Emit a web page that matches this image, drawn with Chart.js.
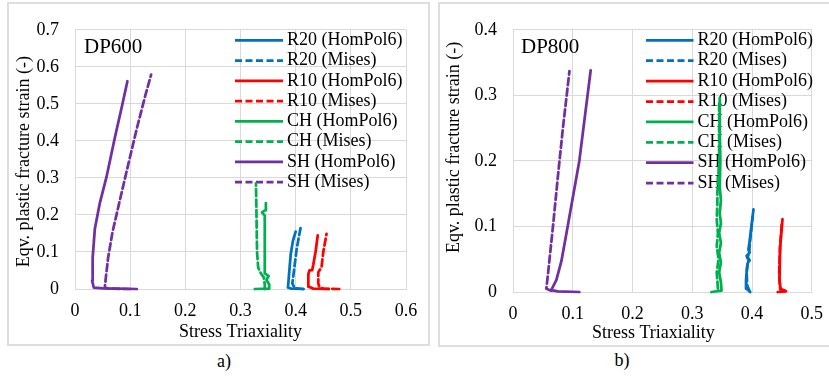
<!DOCTYPE html>
<html>
<head>
<meta charset="utf-8">
<script src="https://cdn.jsdelivr.net/npm/chart.js@4.4.0/dist/chart.umd.min.js"></script>
<style>
  body { margin:0; width:829px; height:377px; overflow:hidden; background:#fff; position:relative;
         font-family:'Liberation Serif','Times New Roman',serif; }
  .frame { position:absolute; border:2px solid #dedede; box-sizing:border-box; }
  canvas { position:absolute; }
  .cap { position:absolute; font-size:18px; transform:translate(-50%,-50%); color:#000; }
</style>
</head>
<body>
<div class="frame" style="left:7px;top:2px;width:423px;height:344px"></div>
<div class="frame" style="left:438px;top:2px;width:400px;height:345px"></div>
<canvas id="dp600" width="421" height="342" style="left:8px;top:3px"></canvas>
<canvas id="dp800" width="395" height="343" style="left:439px;top:3px"></canvas>
<div class="cap" style="left:224px;top:361px">a)</div>
<div class="cap" style="left:622px;top:360px">b)</div>
<script>
const FONT = "'Liberation Serif','Times New Roman',serif";

// series (same order in both panels)
const seriesNames  = ['R20 (HomPol6)', 'R20 (Mises)', 'R10 (HomPol6)', 'R10 (Mises)',
                      'CH (HomPol6)', 'CH (Mises)', 'SH (HomPol6)', 'SH (Mises)'];
const seriesColors = ['#0070C0', '#0070C0', '#FF0000', '#FF0000',
                      '#00B050', '#00B050', '#7030A0', '#7030A0'];
const seriesDashed = [false, true, false, true, false, true, false, true];

// DP600 : [stress triaxiality, eqv. plastic strain]
const dp600R20Hom = [[0.414,0],[0.392,0.001],[0.386,0.004],[0.387,0.02],[0.388,0.04],[0.391,0.093],[0.395,0.13],[0.400,0.155]];
const dp600R20Mis = [[0.414,0],[0.398,0.002],[0.394,0.015],[0.397,0.05],[0.402,0.11],[0.409,0.166]];
const dp600R10Hom = [[0.46,0],[0.432,0.001],[0.424,0.006],[0.423,0.02],[0.423,0.04],[0.425,0.05],[0.430,0.051],[0.432,0.066],[0.436,0.1],[0.440,0.145]];
const dp600R10Mis = [[0.479,0],[0.45,0.001],[0.443,0.005],[0.441,0.015],[0.441,0.045],[0.445,0.055],[0.447,0.06],[0.45,0.1],[0.456,0.149]];
const dp600CHHom  = [[0.326,0],[0.352,0.001],[0.352,0.012],[0.347,0.025],[0.351,0.035],[0.344,0.042],[0.344,0.198],[0.339,0.207],[0.345,0.213],[0.346,0.232]];
const dp600CHMis  = [[0.344,0],[0.344,0.012],[0.342,0.032],[0.337,0.042],[0.332,0.058],[0.330,0.1],[0.329,0.2],[0.328,0.285]];
const dp600SHHom  = [[0.112,0],[0.051,0.002],[0.034,0.004],[0.031,0.023],[0.032,0.084],[0.036,0.163],[0.045,0.232],[0.057,0.302],[0.072,0.407],[0.085,0.493],[0.095,0.561]];
const dp600SHMis  = [[0.10,0],[0.06,0.001],[0.054,0.004],[0.056,0.032],[0.060,0.084],[0.068,0.154],[0.0815,0.241],[0.0966,0.337],[0.112,0.433],[0.127,0.520],[0.138,0.579]];

// DP800
const dp800R20Hom = [[0.397,0],[0.391,0.005],[0.390,0.018],[0.392,0.04],[0.395,0.05],[0.391,0.055],[0.396,0.06],[0.394,0.065],[0.396,0.077],[0.4025,0.126]];
const dp800R20Mis = [[0.396,0.001],[0.392,0.01],[0.391,0.03],[0.393,0.045],[0.396,0.048],[0.392,0.052],[0.395,0.058],[0.397,0.08],[0.401,0.115]];
const dp800R10Hom = [[0.443,0],[0.457,0.001],[0.448,0.003],[0.446,0.018],[0.447,0.067],[0.451,0.111]];
const dp800R10Mis = [[0.456,0.002],[0.447,0.005],[0.4455,0.03],[0.447,0.07],[0.450,0.105]];
const dp800CHHom  = [[0.332,0],[0.349,0.002],[0.348,0.015],[0.345,0.03],[0.348,0.045],[0.345,0.06],[0.348,0.075],[0.345,0.09],[0.348,0.105],[0.346,0.12],[0.348,0.14],[0.346,0.16],[0.347,0.2],[0.346,0.25],[0.346,0.296]];
const dp800CHMis  = [[0.343,0.005],[0.341,0.03],[0.344,0.05],[0.341,0.07],[0.343,0.09],[0.341,0.11],[0.342,0.135],[0.342,0.15],[0.345,0.2],[0.345,0.29]];
const dp800SHHom  = [[0.111,0],[0.075,0.001],[0.064,0.003],[0.0725,0.018],[0.081,0.047],[0.0917,0.101],[0.111,0.2],[0.130,0.338]];
const dp800SHMis  = [[0.064,0.002],[0.0558,0.005],[0.0586,0.028],[0.067,0.101],[0.075,0.175],[0.0834,0.249],[0.0945,0.337]];

const dp600Series = [dp600R20Hom, dp600R20Mis, dp600R10Hom, dp600R10Mis, dp600CHHom, dp600CHMis, dp600SHHom, dp600SHMis];
const dp800Series = [dp800R20Hom, dp800R20Mis, dp800R10Hom, dp800R10Mis, dp800CHHom, dp800CHMis, dp800SHHom, dp800SHMis];

// material name + legend drawn inside the plot area
const insideText = {
  id: 'insideText',
  beforeDatasetsDraw(chart, args, o) {
    const ctx = chart.ctx, a = chart.chartArea;
    ctx.save();
    ctx.fillStyle = '#000';
    ctx.textBaseline = 'middle';
    ctx.font = '21px ' + FONT;
    ctx.fillText(o.name, a.left + o.nameX, a.top + 18);
    ctx.font = '18px ' + FONT;
    chart.data.datasets.forEach((ds, i) => {
      const y = a.top + o.rowTop + i * o.rowH;
      const x0 = a.left + o.legendX;
      ctx.strokeStyle = ds.borderColor;
      ctx.lineWidth = ds.borderWidth;
      ctx.setLineDash(ds.borderDash || []);
      ctx.beginPath();
      ctx.moveTo(x0, y);
      ctx.lineTo(x0 + o.lineLen, y);
      ctx.stroke();
      ctx.setLineDash([]);
      ctx.fillText(ds.label, x0 + o.lineLen + 4, y);
    });
    ctx.restore();
  }
};

function makeChart(id, series, xMax, yMax, cfg) {
  const datasets = series.map((pts, i) => ({
    label: seriesNames[i],
    data: pts.map(p => ({ x: p[0], y: p[1] })),
    borderColor: seriesColors[i],
    borderWidth: 2.75,
    borderDash: seriesDashed[i] ? [7, 3.5] : [],
    borderCapStyle: 'round',
    borderJoinStyle: 'round',
    showLine: true,
    pointRadius: 0,
    fill: false,
    clip: false
  }));
  const fmt = v => String(+v.toFixed(1));
  return new Chart(document.getElementById(id), {
    type: 'scatter',
    data: { datasets },
    options: {
      responsive: false,
      animation: false,
      events: [],
      layout: { padding: { left: 0, right: cfg.padRight, top: 18, bottom: 0 } },
      plugins: {
        legend: { display: false },
        tooltip: { enabled: false },
        insideText: cfg.inside
      },
      scales: {
        x: {
          type: 'linear', min: 0, max: xMax,
          afterFit: s => { s.height = cfg.xHeight; },
          grid: { color: '#d9d9d9', drawTicks: false },
          border: { color: '#d9d9d9' },
          ticks: { stepSize: 0.1, autoSkip: false, maxRotation: 0, padding: 11, color: '#000',
                   font: { family: FONT, size: 18 }, callback: fmt },
          title: { display: true, text: cfg.xTitle, color: '#000', font: { family: FONT, size: 18 },
                   padding: { top: 0, bottom: cfg.xTitlePad } }
        },
        y: {
          type: 'linear', min: 0, max: yMax,
          afterFit: s => { s.width = cfg.yWidth; },
          grid: { color: '#d9d9d9', drawTicks: false },
          border: { color: '#d9d9d9' },
          ticks: { stepSize: 0.1, autoSkip: false, padding: 16, color: '#000',
                   font: { family: FONT, size: 18 }, callback: fmt },
          title: { display: true, text: cfg.yTitle, color: '#000', font: { family: FONT, size: 18 },
                   padding: { top: cfg.yTitlePad, bottom: 0 } }
        }
      }
    },
    plugins: [insideText]
  });
}

makeChart('dp600', dp600Series, 0.6, 0.7, {
  padRight: 23, xHeight: 56, yWidth: 67, xTitlePad: 1.5, yTitlePad: 5,
  xTitle: 'Stress Triaxiality',
  yTitle: 'Eqv. plastic fracture strain (-)\u00a0',
  inside: { name: 'DP600', nameX: 9, legendX: 160, lineLen: 48, rowTop: 10.5, rowH: 20.25 }
});

makeChart('dp800', dp800Series, 0.5, 0.4, {
  padRight: 20, xHeight: 54, yWidth: 74, xTitlePad: 2, yTitlePad: 4.5,
  xTitle: 'Stress Triaxiality\u00a0\u00a0\u00a0\u00a0',
  yTitle: '\u00a0\u00a0\u00a0\u00a0\u00a0\u00a0Eqv. plastic fracture strain (-)',
  inside: { name: 'DP800', nameX: 8, legendX: 133, lineLen: 47.5, rowTop: 10.5, rowH: 20.4 }
});
</script>
</body>
</html>
